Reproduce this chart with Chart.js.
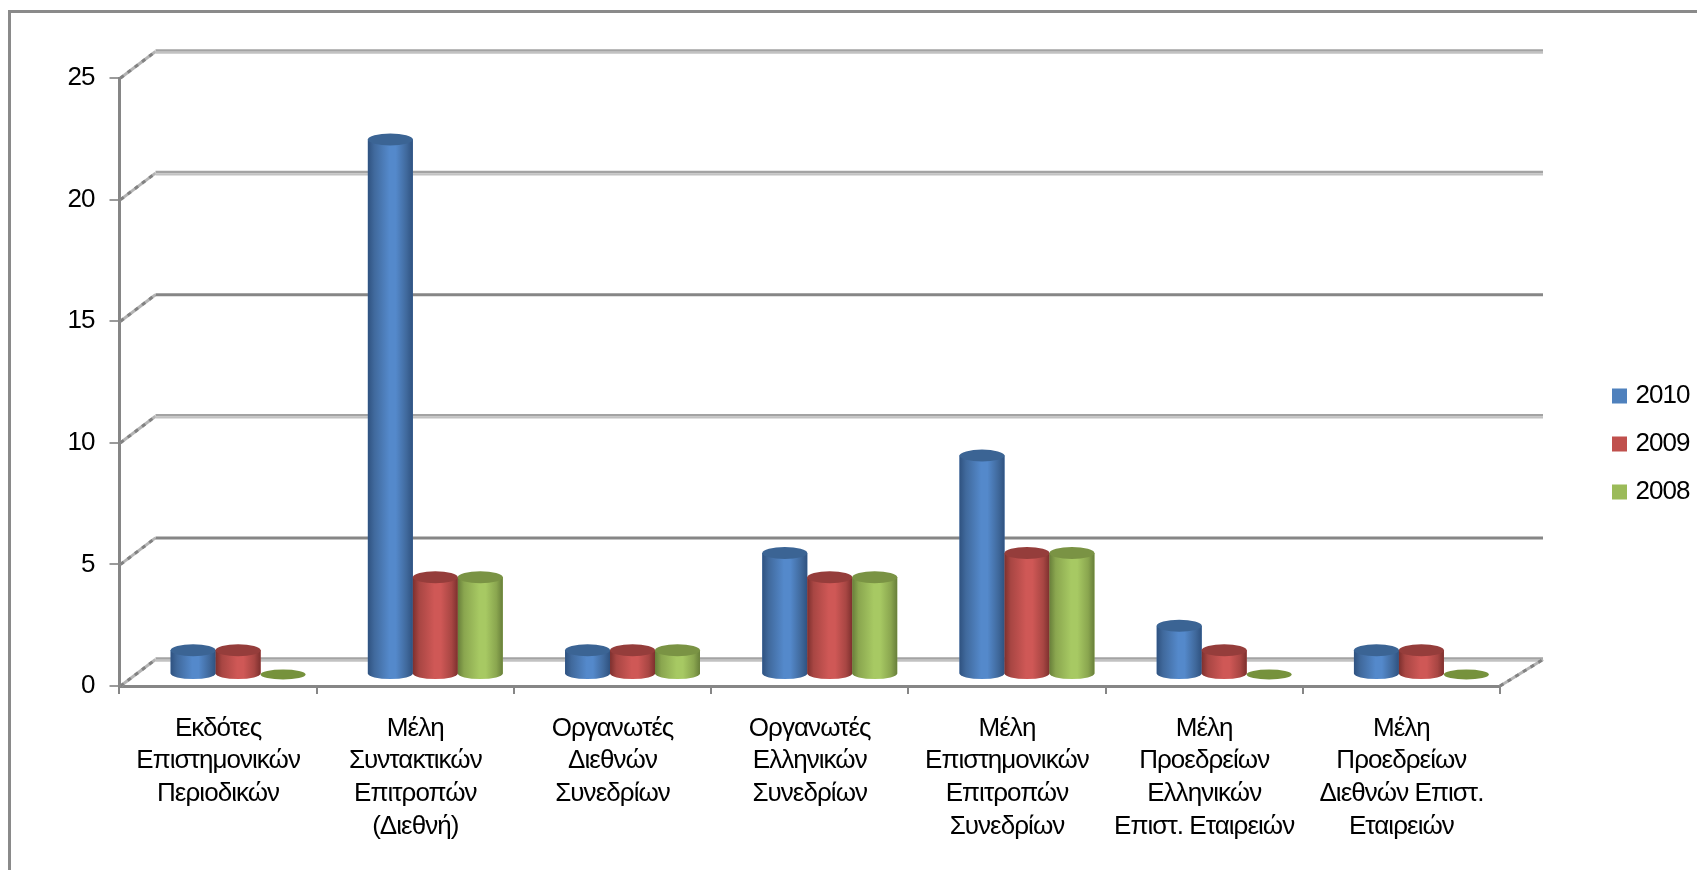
<!DOCTYPE html>
<html lang="el">
<head>
<meta charset="utf-8">
<title>Chart</title>
<style>
html,body{margin:0;padding:0;background:#fff;overflow:hidden}
canvas{display:block;filter:blur(0.45px)}
</style>
<script src="https://cdn.jsdelivr.net/npm/chart.js@4"></script>
</head>
<body>
<canvas id="c" width="1697" height="870"></canvas>
<script>
const categories = [
  ["Εκδότες","Επιστημονικών","Περιοδικών"],
  ["Μέλη","Συντακτικών","Επιτροπών","(Διεθνή)"],
  ["Οργανωτές","Διεθνών","Συνεδρίων"],
  ["Οργανωτές","Ελληνικών","Συνεδρίων"],
  ["Μέλη","Επιστημονικών","Επιτροπών","Συνεδρίων"],
  ["Μέλη","Προεδρείων","Ελληνικών","Επιστ. Εταιρειών"],
  ["Μέλη","Προεδρείων","Διεθνών Επιστ.","Εταιρειών"]
];
const values2010 = [1, 22, 1, 5, 9, 2, 1];
const values2009 = [1, 4, 1, 4, 5, 1, 1];
const values2008 = [0, 4, 1, 4, 5, 0, 0];
const seriesNames = ["2010", "2009", "2008"];
const seriesColors = ["#4f81bd", "#c0504d", "#9bbb59"];

/* cylinder shading per series: edge, shade, bright, top cap */
const shading = [
  {edge:"#2f5280", shade:"#40699c", bright:"#5489cb", cap:"#3b6494", flat:"#3b6494"},
  {edge:"#7d302e", shade:"#a84643", bright:"#cf5856", cap:"#953d3b", flat:"#953d3b"},
  {edge:"#687f3a", shade:"#8aa64f", bright:"#a7c963", cap:"#7a9344", flat:"#76923c"}
];
const AXIS = "#868686";
const FONT = "'Liberation Sans', Arial, sans-serif";
const FONT_SIZE = 26;
const TRACKING = "-0.95px";
const depthX = 36, depthY = -26.5;   /* back wall offset of the 3D box */
const barX = 20, barY = -11.5;       /* bars stand in the middle of the floor */
const twoTone = [25, 20, 10, 0];

function line(ctx, x1, y1, x2, y2, color, width, dash) {
  ctx.save();
  ctx.strokeStyle = color; ctx.lineWidth = width;
  ctx.setLineDash(dash || []);
  ctx.beginPath(); ctx.moveTo(x1, y1); ctx.lineTo(x2, y2); ctx.stroke();
  ctx.restore();
}

const box3d = {
  id: "box3d",
  beforeDraw(chart) {
    const ctx = chart.ctx;
    ctx.letterSpacing = TRACKING;
    ctx.save();
    ctx.fillStyle = "#fff"; ctx.fillRect(0, 0, chart.width, chart.height);
    ctx.fillStyle = "#8a8a8a";
    ctx.fillRect(8, 10, 3, chart.height - 10);
    ctx.fillRect(8, 10, chart.width - 8, 3);
    ctx.restore();
  },
  afterLayout(chart) {
    const l = chart.legend, p = l.options.labels.padding;
    const left = 1616.5 - p, top = 396 - FONT_SIZE / 2 - p;
    l.left = left; l.right = left + l.width;
    l.top = top; l.bottom = top + l.height;
  },
  beforeDatasetsDraw(chart) {
    const ctx = chart.ctx, y = chart.scales.y, a = chart.chartArea;
    const x0 = a.left + 1, xb = a.left + depthX, xe = a.right + 43;
    y.ticks.forEach(t => {
      const py = y.getPixelForValue(t.value), by = py + depthY;
      /* side wall connector */
      line(ctx, x0, py, xb, by, "#b4b4b4", 3);
      line(ctx, x0, py, xb, by, "#828282", 3, [4, 5]);
      /* back wall grid line */
      if (twoTone.includes(t.value)) {
        line(ctx, xb, by - 1, xe, by - 1, "#a3a3a3", 2.5);
        line(ctx, xb, by + 1.2, xe, by + 1.2, "#c2c2c2", 2.2);
      } else {
        line(ctx, xb, by, xe, by, "#868686", 3);
      }
    });
    /* right edge of the floor */
    const fy = y.getPixelForValue(0);
    line(ctx, a.right, fy, xe, fy + depthY, "#b4b4b4", 3);
    line(ctx, a.right, fy, xe, fy + depthY, "#828282", 3, [4, 5]);
    ctx.save();
    ctx.translate(barX, barY);
  },
  afterDatasetsDraw(chart) {
    const ctx = chart.ctx;
    ctx.restore();
    chart.data.datasets.forEach((ds, i) => {
      const s = shading[i];
      chart.getDatasetMeta(i).data.forEach((el, j) => {
        const w = el.width, cx = el.x + barX, rx = w / 2;
        const top = el.y + barY, bot = el.base + barY, ry = 5.5;
        ctx.save();
        if (ds.data[j] === 0) {
          ctx.fillStyle = s.flat;
          ctx.beginPath(); ctx.ellipse(cx, bot, rx, 5, 0, 0, Math.PI * 2); ctx.fill();
          ctx.restore();
          return;
        }
        const g = ctx.createLinearGradient(cx - rx, 0, cx + rx, 0);
        g.addColorStop(0, s.edge); g.addColorStop(0.14, s.shade);
        g.addColorStop(0.48, s.bright); g.addColorStop(0.62, s.bright);
        g.addColorStop(0.86, s.shade); g.addColorStop(1, s.edge);
        ctx.fillStyle = g;
        ctx.beginPath();
        ctx.moveTo(cx - rx, top);
        ctx.lineTo(cx - rx, bot);
        ctx.ellipse(cx, bot, rx, ry, 0, Math.PI, 0, true);
        ctx.lineTo(cx + rx, top);
        ctx.closePath();
        ctx.fill();
        ctx.fillStyle = s.cap;
        ctx.beginPath(); ctx.ellipse(cx, top, rx, 6, 0, 0, Math.PI * 2); ctx.fill();
        ctx.restore();
      });
    });
  }
};

const canvasEl = document.getElementById("c");
canvasEl.getContext("2d").letterSpacing = TRACKING;

new Chart(canvasEl, {
  type: "bar",
  plugins: [box3d],
  data: {
    labels: categories,
    datasets: [
      {label: seriesNames[0], data: values2010, backgroundColor: seriesColors[0]},
      {label: seriesNames[1], data: values2009, backgroundColor: seriesColors[1]},
      {label: seriesNames[2], data: values2008, backgroundColor: seriesColors[2]}
    ]
  },
  options: {
    responsive: false,
    animation: false,
    devicePixelRatio: 1,
    datasets: {bar: {categoryPercentage: 0.684, barPercentage: 1}},
    layout: {padding: {left: 0, top: 78, right: 197, bottom: 0}},
    plugins: {
      tooltip: {enabled: false},
      title: {display: false},
      legend: {
        display: true,
        position: "chartArea",
        align: "start",
        labels: {
          boxWidth: 6, boxHeight: 6, padding: 22,
          color: "#000",
          font: {family: FONT, size: FONT_SIZE},
          generateLabels(chart) {
            const items = Chart.defaults.plugins.legend.labels.generateLabels(chart);
            items.forEach(it => { it.lineWidth = 9; it.strokeStyle = it.fillStyle; it.lineJoin = "miter"; });
            return items;
          }
        }
      }
    },
    scales: {
      x: {
        type: "category",
        afterFit(s) { s.height = 184; },
        grid: {display: true, drawOnChartArea: false, drawTicks: true, tickLength: 8, color: AXIS, lineWidth: 2, offset: true},
        border: {display: true, color: AXIS, width: 3},
        ticks: {
          autoSkip: false, maxRotation: 0, minRotation: 0, padding: 18, color: "#000",
          font: {family: FONT, size: FONT_SIZE, lineHeight: 1.26}
        }
      },
      y: {
        min: 0, max: 25,
        afterFit(s) { s.width = 119.5; },
        grid: {display: true, drawOnChartArea: false, drawTicks: true, tickLength: 10, color: "#9a9a9a", lineWidth: 2},
        border: {display: true, color: AXIS, width: 3},
        ticks: {
          stepSize: 5, padding: 15, color: "#000",
          font: {family: FONT, size: FONT_SIZE}
        }
      }
    }
  }
});
</script>
</body>
</html>
